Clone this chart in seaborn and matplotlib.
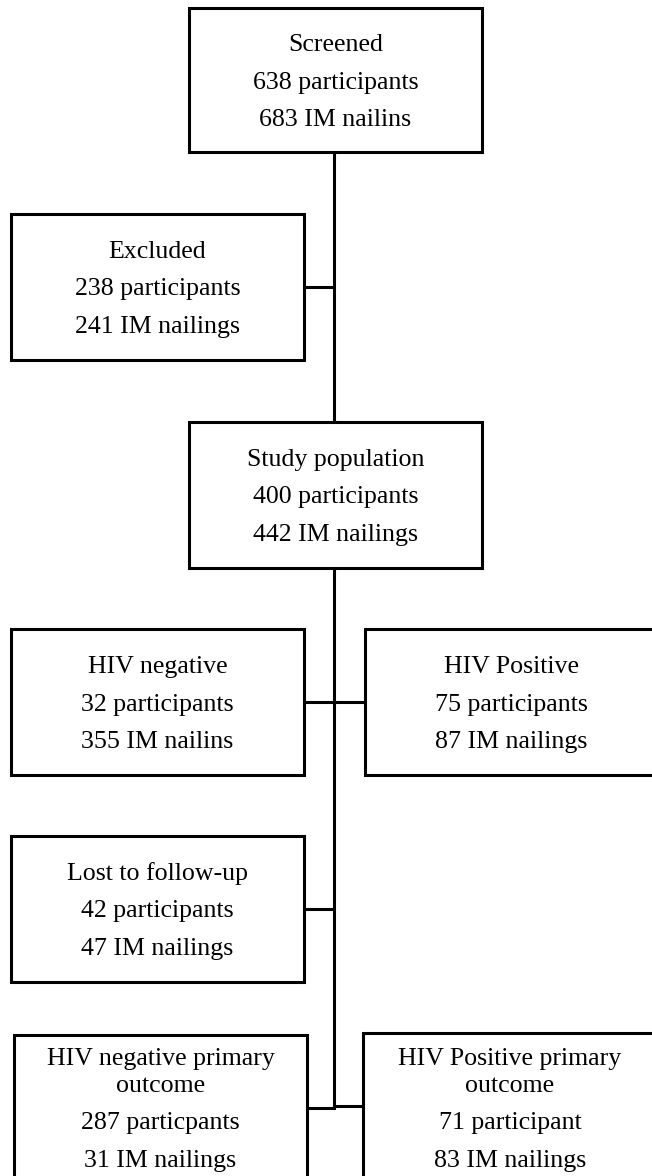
import matplotlib
matplotlib.use("Agg")
import matplotlib.pyplot as plt
from matplotlib.patches import Rectangle
import seaborn as sns

# flowchart content
titles = ["Screened", "Excluded", "Study population", "HIV negative", "HIV Positive",
          "Lost to follow-up", "HIV negative primary\noutcome", "HIV Positive primary\noutcome"]
n_participants = [638, 238, 400, 32, 75, 42, 287, 71]
participant_words = ["participants", "participants", "participants", "participants", "participants",
                     "participants", "particpants", "participant"]
n_nailings = [683, 241, 442, 355, 87, 47, 31, 83]
nailing_words = ["IM nailins", "IM nailings", "IM nailings", "IM nailins", "IM nailings",
                 "IM nailings", "IM nailings", "IM nailings"]

# layout in pixel units (x0, x1, y0, y1)
boxes = [(189, 482, 8, 152), (11, 304, 214, 360), (189, 482, 422, 568), (11, 304, 629, 775),
         (365, 657, 629, 775), (11, 304, 836, 982), (14, 307, 1035, 1195), (363, 657, 1033, 1195)]
trunk_x = 334
lw = 2.2

sns.set_theme(style="white")
plt.rcParams['font.family'] = ['Liberation Serif', 'DejaVu Serif']

fig = plt.figure(figsize=(6.52, 11.76), dpi=100)
ax = fig.add_axes([0, 0, 1, 1])
ax.set_xlim(0, 652)
ax.set_ylim(1176, 0)
ax.axis("off")

for i, (x0, x1, y0, y1) in enumerate(boxes):
    ax.add_patch(Rectangle((x0, y0), x1 - x0, y1 - y0, facecolor="white", edgecolor="black",
                           linewidth=lw, joinstyle="miter", zorder=3))
    cx = (x0 + x1) / 2
    lines = [titles[i].split("\n"),
             [f"{n_participants[i]} {participant_words[i]}"],
             [f"{n_nailings[i]} {nailing_words[i]}"]]
    if len(lines[0]) == 1:
        cy = (y0 + y1) / 2 + 2.5
        ys = [cy - 37.5, cy, cy + 37.5]
        texts = [lines[0][0], lines[1][0], lines[2][0]]
    else:
        ys = [1059.5, 1086.5, 1123.5, 1161]
        texts = lines[0] + lines[1] + lines[2]
    for y, t in zip(ys, texts):
        ax.text(cx, y, t, ha="center", va="center", fontsize=18.6, color="black", zorder=4)

# connectors
ax.plot([trunk_x, trunk_x], [152, 1107], color="black", lw=lw, solid_capstyle="butt", zorder=2)
ax.plot([304, trunk_x], [287, 287], color="black", lw=lw, solid_capstyle="butt", zorder=2)
ax.plot([304, 365], [702, 702], color="black", lw=lw, solid_capstyle="butt", zorder=2)
ax.plot([304, trunk_x], [909, 909], color="black", lw=lw, solid_capstyle="butt", zorder=2)
ax.plot([307, trunk_x], [1108, 1108], color="black", lw=lw, solid_capstyle="projecting", zorder=2)
ax.plot([trunk_x, 363], [1106, 1106], color="black", lw=lw, solid_capstyle="butt", zorder=2)

fig.savefig("out.png", dpi=100, facecolor="white")
